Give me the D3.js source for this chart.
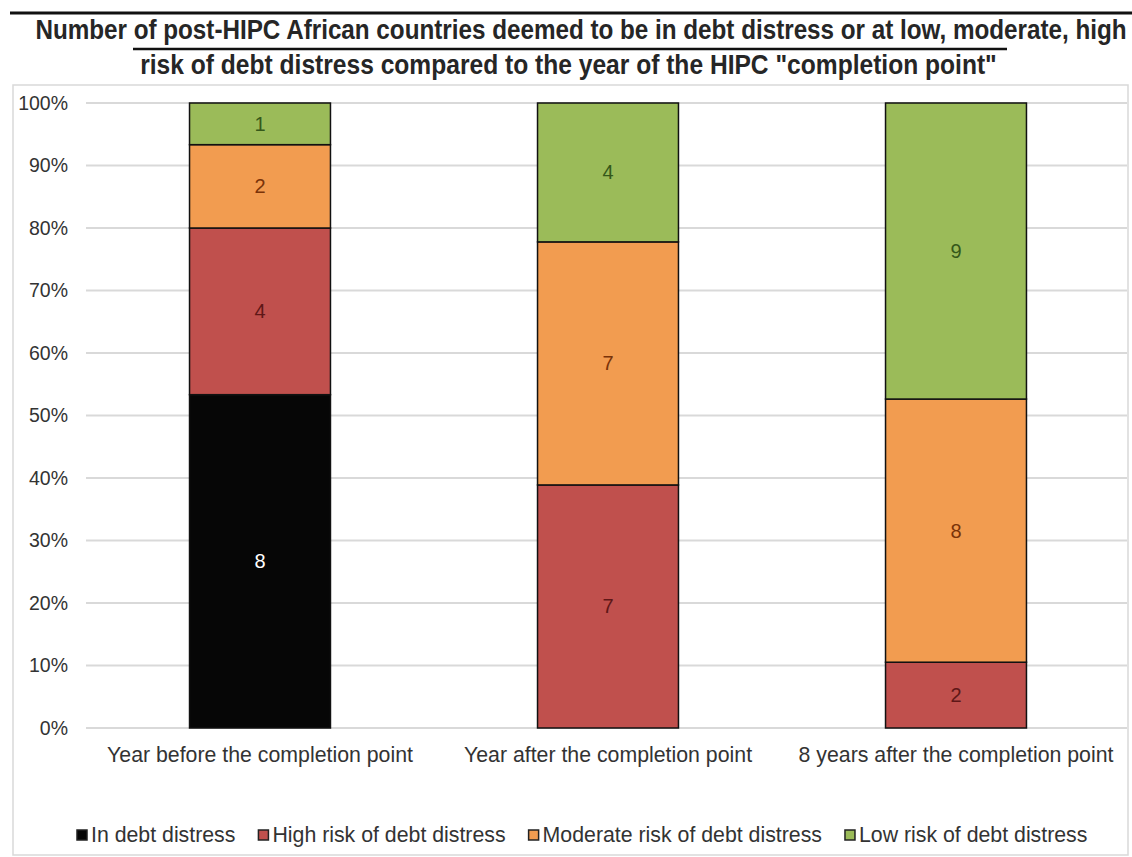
<!DOCTYPE html>
<html>
<head>
<meta charset="utf-8">
<script src="https://cdn.jsdelivr.net/npm/d3@7"></script>
<style>
  body { margin: 0; background: #fff; }
  text { font-family: Arial, "Liberation Sans", sans-serif; }
</style>
</head>
<body>
<div id="chart-area"></div>
<script>
/*
Stacked 100% bars: post-HIPC countries by debt distress rating
*/

// Data
var categories = ["Year before the completion point", "Year after the completion point", "8 years after the completion point"];
var seriesNames = ["In debt distress", "High risk of debt distress", "Moderate risk of debt distress", "Low risk of debt distress"];
var inDistress   = [8, 0, 0];
var highRisk     = [4, 7, 2];
var moderateRisk = [2, 7, 8];
var lowRisk      = [1, 4, 9];
var yTickValues  = [0, 0.1, 0.2, 0.3, 0.4, 0.5, 0.6, 0.7, 0.8, 0.9, 1];
var titleLines = ["Number of post-HIPC African countries deemed to be in debt distress or at low, moderate, high",
                  "risk of debt distress compared to the year of the HIPC \"completion point\""];

var colors      = ["#060606", "#c0504d", "#f29c50", "#9bbb59"];
var labelColors = ["#ffffff", "#5e1717", "#7a3309", "#35581a"];

var W = 1132, H = 857;
var plot = { left: 86, right: 1130, top: 103, bottom: 728 };

var svg = d3.select("#chart-area").append("svg")
  .attr("width", W)
  .attr("height", H);

/* Chart border */
svg.append("rect")
  .attr("x", 13).attr("y", 85)
  .attr("width", 1115).attr("height", 770)
  .attr("fill", "none")
  .attr("stroke", "#d9d9d9")
  .attr("stroke-width", 1.5);

/* Title */
svg.append("line")
  .attr("x1", 10).attr("x2", W).attr("y1", 13).attr("y2", 13)
  .attr("stroke", "#111").attr("stroke-width", 3);

svg.append("line")
  .attr("x1", 133).attr("x2", 1007).attr("y1", 49).attr("y2", 49)
  .attr("stroke", "#111").attr("stroke-width", 2.5);

// condensed look: squeeze each title line horizontally to the width seen in the picture
function titleLine(str, cx, baseline, targetWidth) {
  var t = svg.append("text")
    .attr("text-anchor", "middle")
    .attr("font-size", "27px").attr("font-weight", "bold").attr("fill", "#262626")
    .text(str);
  var sx = targetWidth / t.node().getComputedTextLength();
  t.attr("transform", "translate(" + cx + "," + baseline + ") scale(" + sx + ",1)");
}
titleLine(titleLines[0], 581, 39, 1092);
titleLine(titleLines[1], 568.5, 74, 857);

/* Scales */
var x = d3.scaleBand()
  .domain(categories)
  .range([plot.left, plot.right])
  .paddingInner(0.595)
  .paddingOuter(0.2975);

var y = d3.scaleLinear()
  .domain([0, 1])
  .range([plot.bottom, plot.top]);

/* Gridlines */
svg.append("g").selectAll("line")
  .data(yTickValues)
  .enter().append("line")
    .attr("x1", plot.left).attr("x2", 1127)
    .attr("y1", d => y(d)).attr("y2", d => y(d))
    .attr("stroke", "#d9d9d9")
    .attr("stroke-width", 2);

/* Axes */
var yAxis = svg.append("g")
  .attr("transform", "translate(" + plot.left + ",0)")
  .call(d3.axisLeft(y).tickValues(yTickValues).tickFormat(d3.format(".0%")).tickSize(0).tickPadding(18));
yAxis.select(".domain").remove();
yAxis.selectAll("text")
  .attr("font-size", "19.5px").attr("fill", "#333").attr("font-family", "Arial, 'Liberation Sans', sans-serif");

var xAxis = svg.append("g")
  .attr("transform", "translate(0," + plot.bottom + ")")
  .call(d3.axisBottom(x).tickSize(0).tickPadding(19));
xAxis.select(".domain").remove();
xAxis.selectAll("text")
  .attr("font-size", "21.3px").attr("fill", "#333").attr("font-family", "Arial, 'Liberation Sans', sans-serif");

/* Stack the series */
var rows = categories.map((c, i) => ({
  category: c,
  s0: inDistress[i], s1: highRisk[i], s2: moderateRisk[i], s3: lowRisk[i]
}));
var stack = d3.stack()
  .keys(["s0", "s1", "s2", "s3"])
  .offset(d3.stackOffsetExpand);
var series = stack(rows);

var layers = svg.append("g").selectAll("g")
  .data(series)
  .enter().append("g")
    .attr("fill", (d, i) => colors[i]);

layers.selectAll("rect")
  .data(d => d.filter(p => p.data[d.key] > 0))
  .enter().append("rect")
    .attr("x", d => x(d.data.category))
    .attr("y", d => y(d[1]))
    .attr("width", x.bandwidth())
    .attr("height", d => y(d[0]) - y(d[1]))
    .attr("stroke", "#111")
    .attr("stroke-width", 1.5);

/* Data labels */
series.forEach((s, i) => {
  svg.append("g").selectAll("text")
    .data(s.filter(p => p.data[s.key] > 0))
    .enter().append("text")
      .attr("x", d => x(d.data.category) + x.bandwidth() / 2)
      .attr("y", d => y((d[0] + d[1]) / 2))
      .attr("dy", "0.35em")
      .attr("text-anchor", "middle")
      .attr("font-size", "20px")
      .attr("fill", labelColors[i])
      .text(d => d.data[s.key]);
});

/* Legend */
var legend = svg.append("g").attr("transform", "translate(0,835)");
var lx = 77;
seriesNames.forEach((name, i) => {
  legend.append("rect")
    .attr("x", lx).attr("y", -5)
    .attr("width", 10).attr("height", 10)
    .attr("fill", colors[i])
    .attr("stroke", "#222").attr("stroke-width", 1.5);
  var t = legend.append("text")
    .attr("x", lx + 14).attr("y", 0)
    .attr("dy", "0.35em")
    .attr("font-size", "21.3px").attr("fill", "#333")
    .text(name);
  lx += 14 + t.node().getComputedTextLength() + 23;
});
</script>
</body>
</html>
